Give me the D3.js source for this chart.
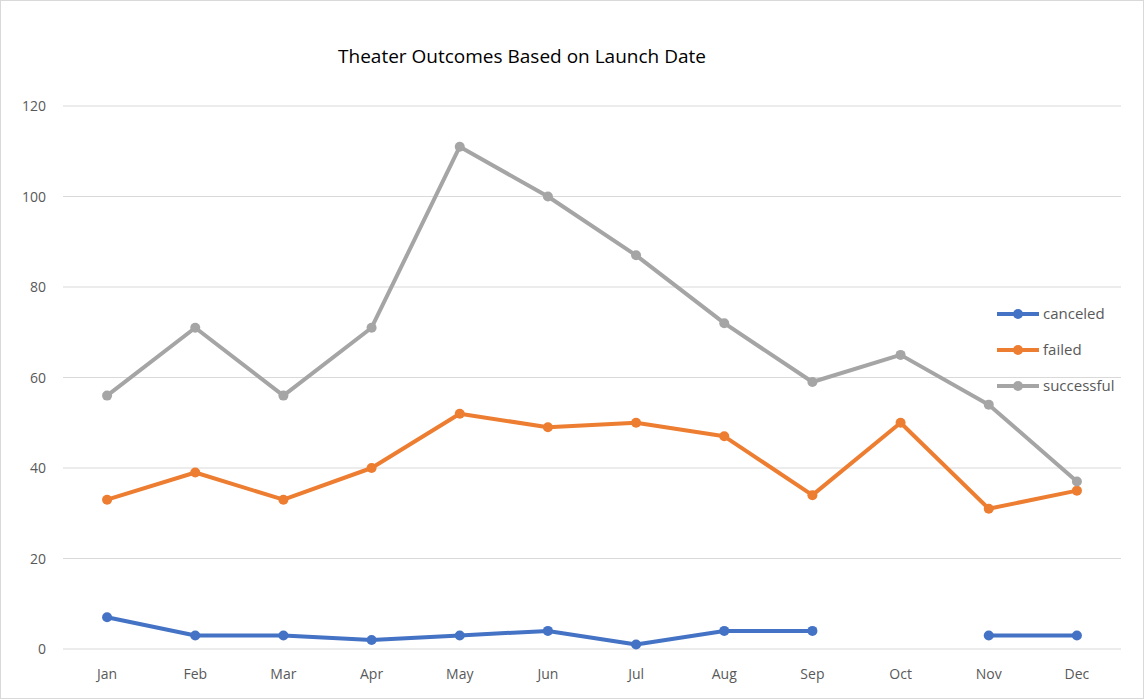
<!DOCTYPE html>
<html>
<head>
<script src="https://d3js.org/d3.v7.min.js"></script>
<style>
  body { margin: 0; background: #fff; }
  text { font-family: "Open Sans", "Liberation Sans", sans-serif; }
</style>
</head>
<body>
<svg id="chart" width="1145" height="700"></svg>
<script>
const months = ["Jan","Feb","Mar","Apr","May","Jun","Jul","Aug","Sep","Oct","Nov","Dec"];
const canceled = [7,3,3,2,3,4,1,4,4,null,3,3];
const failed = [33,39,33,40,52,49,50,47,34,50,31,35];
const successful = [56,71,56,71,111,100,87,72,59,65,54,37];
const yTicks = [0,20,40,60,80,100,120];

const series = [
  {name: "canceled", values: canceled, color: "#4472C4"},
  {name: "failed", values: failed, color: "#ED7D31"},
  {name: "successful", values: successful, color: "#A5A5A5"}
];

const svg = d3.select("#chart");
svg.append("rect").attr("x", 0.5).attr("y", 0.5).attr("width", 1143).attr("height", 698)
  .attr("fill", "#fff").attr("stroke", "#d9d9d9");

const x = d3.scaleBand().domain(months).range([63, 1121]);
const y = d3.scaleLinear().domain([0, 120]).range([649, 106]);

svg.selectAll(".grid").data(yTicks).enter().append("line")
  .attr("x1", 63).attr("x2", 1121)
  .attr("y1", d => y(d)).attr("y2", d => y(d))
  .attr("stroke", "#d9d9d9").attr("stroke-width", 1);

svg.selectAll(".ylab").data(yTicks).enter().append("text")
  .attr("x", 46).attr("y", d => y(d) + 5).attr("text-anchor", "end")
  .attr("font-size", 14).attr("fill", "#595959").text(d => d);

svg.selectAll(".xlab").data(months).enter().append("text")
  .attr("x", d => x(d) + x.bandwidth() / 2).attr("y", 679).attr("text-anchor", "middle")
  .attr("font-size", 14).attr("fill", "#595959").text(d => d);

svg.append("text").attr("x", 522).attr("y", 63).attr("text-anchor", "middle")
  .attr("font-size", 19).attr("fill", "#000").text("Theater Outcomes Based on Launch Date");

const line = d3.line()
  .defined(d => d != null)
  .x((d, i) => x(months[i]) + x.bandwidth() / 2)
  .y(d => y(d));

series.forEach(s => {
  svg.append("path").datum(s.values).attr("d", line)
    .attr("fill", "none").attr("stroke", s.color).attr("stroke-width", 4)
    .attr("stroke-linejoin", "round");
  svg.selectAll(null).data(s.values.map((v, i) => ({v, i})).filter(d => d.v != null))
    .enter().append("circle")
    .attr("cx", d => x(months[d.i]) + x.bandwidth() / 2)
    .attr("cy", d => y(d.v)).attr("r", 5).attr("fill", s.color);
});

const lg = svg.append("g").attr("transform", "translate(997,314)");
series.forEach((s, i) => {
  const g = lg.append("g").attr("transform", `translate(0,${i * 36})`);
  g.append("line").attr("x1", 0).attr("x2", 42).attr("stroke", s.color).attr("stroke-width", 4);
  g.append("circle").attr("cx", 21).attr("r", 5).attr("fill", s.color);
  g.append("text").attr("x", 46).attr("y", 5).attr("font-size", 15).attr("fill", "#595959").text(s.name);
});
</script>
</body>
</html>
